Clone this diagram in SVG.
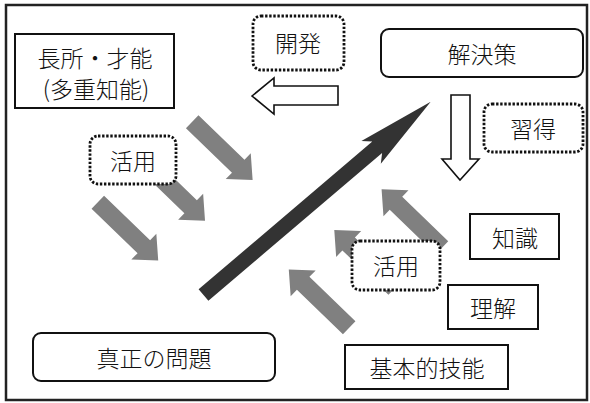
<svg xmlns="http://www.w3.org/2000/svg" xmlns:xlink="http://www.w3.org/1999/xlink" width="590" height="403" viewBox="0 0 590 403">
<style>
.t{font-family:"Noto Sans CJK JP","Noto Sans CJK SC",sans-serif;font-size:23px;font-weight:300;fill:#111;text-anchor:middle;dominant-baseline:central}
.box{fill:#fff;stroke:#111;stroke-width:2}
.dot{fill:#fff;stroke:#111;stroke-width:2.8;stroke-dasharray:2.4 1.7}
.gray{fill:#808080}
.hollow{fill:#fff;stroke:#111;stroke-width:1.6;stroke-linejoin:miter}
</style>
<defs>
<polygon id="ga" points="0,-9 64,-9 64,-18 84,0 64,18 64,9 0,9"/>
</defs>
<rect x="6" y="5" width="581" height="395" fill="#fff" stroke="#222" stroke-width="2.5"/>
<g id="connectors">
<use xlink:href="#ga" class="gray" transform="translate(192.2,121.7) rotate(44)"/>
<use xlink:href="#ga" class="gray" transform="translate(144.6,162.3) rotate(44)"/>
<use xlink:href="#ga" class="gray" transform="translate(97.8,202.2) rotate(44)"/>
<use xlink:href="#ga" class="gray" transform="translate(442,247.7) rotate(224)"/>
<use xlink:href="#ga" class="gray" transform="translate(394.7,288.4) rotate(224)"/>
<use xlink:href="#ga" class="gray" transform="translate(349.2,327.8) rotate(224)"/>
<polygon points="198.6,289.3 372.3,141.6 361.4,141 430.7,101.7 380.8,163.8 382.1,153 208.4,300.7" fill="#333"/>
<polygon class="hollow" points="252,96 274,78 274,86 338,86 338,105 274,105 274,114"/>
<polygon class="hollow" points="451,95 470,95 470,159 479,159 460,180 442,159 451,159"/>
</g>
<g id="n_strength">
<rect class="box" x="15" y="34" width="159" height="74"/>
<text class="t" x="95" y="57">長所・才能</text>
<text class="t" x="96" y="88">(多重知能)</text>
</g>
<g id="n_dev">
<rect class="dot" x="253" y="16" width="91" height="54" rx="8"/>
<text class="t" x="298" y="42">開発</text>
</g>
<g id="n_solution">
<rect class="box" x="381" y="29" width="202" height="48" rx="8"/>
<text class="t" x="482" y="53">解決策</text>
</g>
<g id="n_acquire">
<rect class="dot" x="484" y="104" width="99" height="48" rx="8"/>
<text class="t" x="533" y="128">習得</text>
</g>
<g id="n_use_left">
<rect class="dot" x="90" y="136" width="86" height="48" rx="8"/>
<text class="t" x="133" y="160">活用</text>
</g>
<g id="n_use_right">
<rect class="dot" x="352" y="241" width="88" height="49" rx="8"/>
<text class="t" x="396" y="265">活用</text>
</g>
<g id="n_knowledge">
<rect class="box" x="470" y="214" width="89" height="45"/>
<text class="t" x="515" y="237">知識</text>
</g>
<g id="n_understanding">
<rect class="box" x="448" y="285" width="90" height="44"/>
<text class="t" x="493" y="307">理解</text>
</g>
<g id="n_skills">
<rect class="box" x="345" y="345" width="163" height="44"/>
<text class="t" x="427" y="367">基本的技能</text>
</g>
<g id="n_problem">
<rect class="box" x="33" y="333" width="242" height="48" rx="8"/>
<text class="t" x="154" y="357">真正の問題</text>
</g>
</svg>
